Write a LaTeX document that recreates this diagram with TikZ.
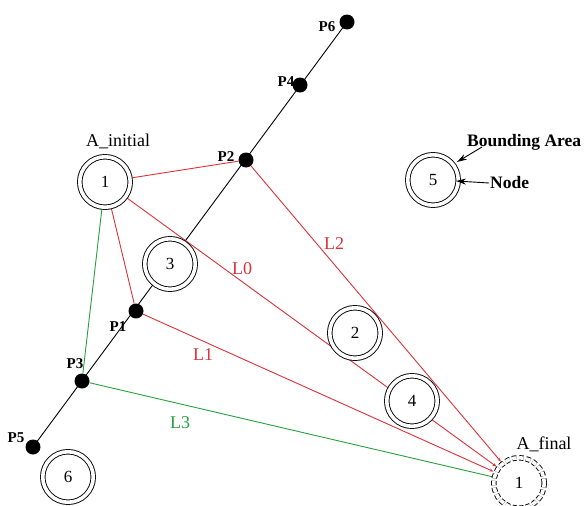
\documentclass[tikz,border=0pt]{standalone}
\usepackage{fontspec}
\setmainfont{Liberation Serif}
\usetikzlibrary{arrows.meta,backgrounds}
\definecolor{lred}{RGB}{220,50,55}
\definecolor{lgreen}{RGB}{40,160,60}
\begin{document}
\begin{tikzpicture}[x=1pt,y=-1pt,
  dot/.style={circle,fill=black,minimum size=15pt,inner sep=0pt},
  plab/.style={font=\fontsize{15}{17}\selectfont\bfseries},
  dnode/.style={circle,draw,fill=white,double,double distance=3.6pt,line width=0.9pt,minimum size=50.5pt,inner sep=0pt,outer sep=2.7pt,font=\fontsize{17}{19}\selectfont},
  fnode/.style={dnode,dashed,dash pattern=on 4.5pt off 2.5pt},
  redl/.style={lred,line width=0.9pt},
  greenl/.style={lgreen,line width=0.9pt},
  tip/.style={-{Stealth[length=4pt,width=3pt]}},
  lab/.style={font=\fontsize{18}{20}\selectfont},
  blab/.style={font=\fontsize{17.5}{20}\selectfont\bfseries},
  annot/.style={-{Stealth[length=10pt,width=6pt]},line width=0.9pt}]
\useasboundingbox (0,0) rectangle (584,506);
% points on line
\node[dot] (p5) at (33,447) {};
\node[dot] (p3) at (82,381) {};
\node[dot] (p1) at (136,311) {};
\node[dot] (p2) at (246,160) {};
\node[dot] (p4) at (300,85) {};
\node[dot] (p6) at (347,22) {};
\node[plab] (lp6) at (327,27) {P6};
\node[plab] (lp4) at (286,82) {P4};
\node[plab] (lp2) at (226,157) {P2};
\node[plab] (lp1) at (118,327) {P1};
\node[plab] (lp3) at (75,364) {P3};
\node[plab] (lp5) at (16,438) {P5};
% nodes
\node[dnode] (n1) at (105,182) {1};
\node[dnode] (n3) at (170,264) {3};
\node[dnode] (n2) at (355,333) {2};
\node[dnode] (n4) at (412,401) {4};
\node[dnode] (n6) at (68,477) {6};
\node[dnode] (n5) at (433,180) {5};
\node[fnode] (af) at (519,483) {1};
\node[lab] (ai) at (118,141) {A\_initial};
\node[lab] (afl) at (544,444) {A\_final};
% connectors
\begin{pgfonlayer}{background}
\draw[line width=0.9pt] (p5.center) -- (p6.center);
\draw[redl] (n1) -- (p2);
\draw[redl] (n1) -- (p1);
\draw[greenl] (n1) -- (p3);
\draw[redl,tip] (n1.center) -- (af);
\draw[redl,tip] (p1) -- (af);
\draw[redl,tip] (p2) -- (af);
\draw[greenl] (p3) -- (af);
\end{pgfonlayer}
\node[lab,text=lred] (l0) at (242,269) {L0};
\node[lab,text=lred] (l1) at (203,355) {L1};
\node[lab,text=lred] (l2) at (334,244) {L2};
\node[lab,text=lgreen] (l3) at (180,423) {L3};
% annotations
\node[blab,anchor=west,inner sep=1pt] (ba) at (466,142) {Bounding Area};
\node[blab,anchor=west,inner sep=1pt] (nd) at (489,183) {Node};
\coordinate (bat) at (457,162);
\coordinate (ndt) at (456,181);
\draw[annot] (482,147) -- (bat);
\draw[annot] (nd.west) -- (ndt);
\end{tikzpicture}
\end{document}
